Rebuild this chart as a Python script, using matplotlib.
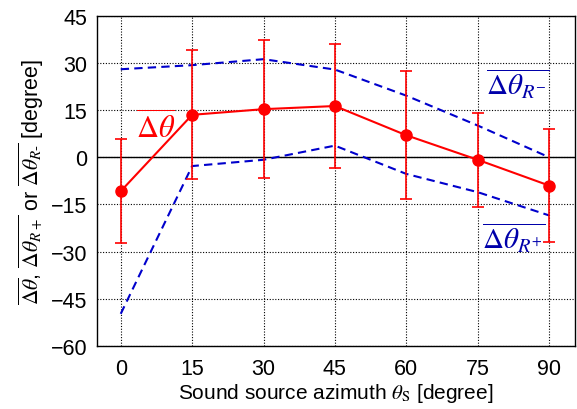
import matplotlib
matplotlib.use("Agg")
import matplotlib.pyplot as plt

plt.rcParams['font.family'] = ['Liberation Sans', 'DejaVu Sans']
plt.rcParams['mathtext.fontset'] = 'stix'

azimuth = [0, 15, 30, 45, 60, 75, 90]
mean_err = [-10.8, 13.5, 15.3, 16.3, 7.0, -0.8, -9.0]
err_sd = [16.5, 20.5, 22.0, 19.7, 20.3, 15.0, 17.9]
r_minus = [28.0, 29.3, 31.2, 27.9, 19.6, 10.1, 0.0]
r_plus = [-49.8, -2.8, -0.8, 3.7, -5.3, -11.1, -18.5]
yticks = [-60, -45, -30, -15, 0, 15, 30, 45]

fig = plt.figure(figsize=(5.77, 4.10), dpi=100)
ax = fig.add_axes([0.168, 0.154, 0.829, 0.805])

ax.grid(True, color='black', linestyle=(0, (1, 1.5)), linewidth=0.8)
ax.axhline(0, color='black', linewidth=1.0, zorder=1)

ax.plot(azimuth, r_minus, color='#0000cc', linestyle=(0, (4, 2.5)), linewidth=1.5, zorder=2)
ax.plot(azimuth, r_plus, color='#0000cc', linestyle=(0, (4, 2.5)), linewidth=1.5, zorder=2)
ax.errorbar(azimuth, mean_err, yerr=err_sd, color='red', marker='o', markersize=8,
            linewidth=1.5, elinewidth=1.2, capsize=4, capthick=1.2, zorder=3)

ax.set_xlim(-5, 95.5)
ax.set_ylim(-60, 45)
ax.set_xticks(azimuth)
ax.set_yticks(yticks)
ax.tick_params(axis='both', labelsize=15.5, length=0)
ax.tick_params(axis='x', pad=9)
ax.tick_params(axis='y', pad=7)
for s in ax.spines.values():
    s.set_linewidth(1.0)

ax.set_xlabel(r'Sound source azimuth $\theta_{\mathrm{S}}$ [degree]', fontsize=15, labelpad=1)
ax.set_ylabel(r'$\overline{\Delta\theta}$, $\overline{\Delta\theta_{R+}}$ or $\overline{\Delta\theta_{R\text{-}}}$ [degree]',
              fontsize=15.5, labelpad=3)

ax.text(3.3, 9.5, r'$\overline{\Delta\theta}$', color='red', fontsize=22, ha='left', va='center')
ax.text(76.7, 23.5, r'$\overline{\Delta\theta_{R^{-}}}$', color='#0000aa', fontsize=21, ha='left', va='center')
ax.text(76.0, -25.5, r'$\overline{\Delta\theta_{R^{+}}}$', color='#0000aa', fontsize=21, ha='left', va='center')

fig.savefig('out.png', dpi=100)
